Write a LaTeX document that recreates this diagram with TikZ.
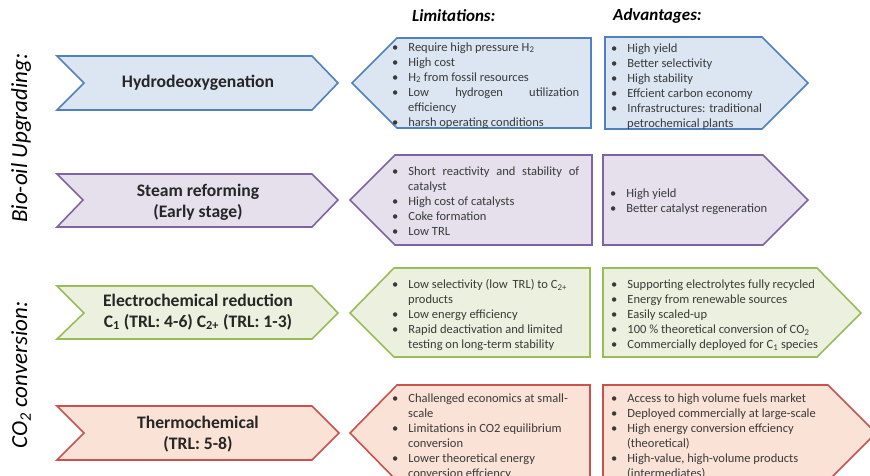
\documentclass[tikz,border=0pt]{standalone}
\usepackage{fontspec}
\setmainfont{Carlito}
\usepackage{tikz}
\usetikzlibrary{positioning}
\definecolor{hdoline}{HTML}{4F81BD}
\definecolor{hdofill}{HTML}{DCE6F2}
\definecolor{stmline}{HTML}{8064A2}
\definecolor{stmfill}{HTML}{E5E0EC}
\definecolor{eleline}{HTML}{9BBB59}
\definecolor{elefill}{HTML}{EBF1DE}
\definecolor{thmline}{HTML}{C9524F}
\definecolor{thmfill}{HTML}{FAE2D7}
\definecolor{ink}{HTML}{3A3A3A}
% tight bullet list for the boxes
\newenvironment{pts}{\begin{list}{\textbullet}{\setlength{\leftmargin}{16pt}\setlength{\labelwidth}{6pt}%
  \setlength{\labelsep}{10pt}\setlength{\itemsep}{0pt}\setlength{\parsep}{0pt}%
  \setlength{\topsep}{0pt}\setlength{\partopsep}{0pt}}}{\end{list}}
\hbadness=10000
\begin{document}
\begin{tikzpicture}[x=1pt, y=-1pt,
  shp/.style  = {line width=1.6pt, line join=miter},
  ttl/.style  = {align=center, text=black!85, font=\fontsize{17.6}{21}\selectfont\bfseries},
  lst/.style  = {anchor=north west, inner sep=0pt, align=justify, text=ink,
                 font=\fontsize{12.5}{15}\selectfont},
  hd/.style   = {anchor=west, inner sep=0pt, font=\fontsize{17}{20}\selectfont\bfseries\itshape},
  side/.style = {rotate=90, inner sep=0pt, font=\fontsize{23}{27}\selectfont\itshape},
]
  \clip (0,0) rectangle (870,476);

  % Bio-oil upgrading: hydrodeoxygenation
  \draw[shp, draw=hdoline, fill=hdofill] (57,56) -- (312,56) -- (338,83) -- (312,110) -- (57,110) -- (84,83) -- cycle;
  \draw[shp, draw=hdoline, fill=hdofill] (352,83) -- (397,38) -- (591,38) -- (591,128) -- (397,128) -- cycle;
  \draw[shp, draw=hdoline, fill=hdofill] (605,37) -- (762,37) -- (808,83) -- (762,129) -- (605,129) -- cycle;

  % steam reforming
  \draw[shp, draw=stmline, fill=stmfill] (57,174) -- (312,174) -- (338,200) -- (312,227) -- (57,227) -- (83,200) -- cycle;
  \draw[shp, draw=stmline, fill=stmfill] (350,200) -- (395,155) -- (592,155) -- (592,245) -- (395,245) -- cycle;
  \draw[shp, draw=stmline, fill=stmfill] (603,155) -- (763,155) -- (808,200) -- (763,245) -- (603,245) -- cycle;

  % CO2 conversion: electrochemical
  \draw[shp, draw=eleline, fill=elefill] (57,286) -- (312,286) -- (338,313) -- (312,339) -- (57,339) -- (84,313) -- cycle;
  \draw[shp, draw=eleline, fill=elefill] (350,313) -- (394,268) -- (590,268) -- (590,357) -- (394,357) -- cycle;
  \draw[shp, draw=eleline, fill=elefill] (603,268) -- (817,268) -- (861,313) -- (817,357) -- (603,357) -- cycle;

  % thermochemical
  \draw[shp, draw=thmline, fill=thmfill] (57,406) -- (312,406) -- (339,433) -- (312,460) -- (57,460) -- (84,433) -- cycle;
  \draw[shp, draw=thmline, fill=thmfill] (350,433) -- (397,385) -- (590,385) -- (590,481) -- (397,481) -- cycle;
  \draw[shp, draw=thmline, fill=thmfill] (603,385) -- (828,385) -- (876,433) -- (828,481) -- (603,481) -- cycle;

  % side labels and headers
  \node[side] (bio) at (21,138) {Bio-oil Upgrading:};
  \node[side] (co2) at (21,375) {CO\textsubscript{2} conversion:};
  \node[hd] (lim) at (412,16) {Limitations:};
  \node[hd] (adv) at (613,16) {Advantages:};

  % titles
  \node[ttl] (hdo) at (198,83)  {Hydrodeoxygenation};
  \node[ttl] (stm) at (198,202) {Steam reforming\\(Early stage)};
  \node[ttl] (ele) at (198,312) {Electrochemical reduction\\C\textsubscript{1} (TRL: 4-6) C\textsubscript{2+} (TRL: 1-3)};
  \node[ttl] (thm) at (198,434) {Thermochemical\\(TRL: 5-8)};

  % lists
  \node[lst, text width=187pt] (hdoLim) at (392,36) {\begin{pts}
    \item Require high pressure H\textsubscript{2}
    \item High cost
    \item H\textsubscript{2} from fossil resources
    \item Low hydrogen utilization\linebreak efficiency
    \item harsh operating conditions
  \end{pts}};
  \node[lst, text width=230pt] (hdoAdv) at (611,37) {\begin{pts}
    \item High yield
    \item Better selectivity
    \item High stability
    \item Effcient carbon economy
    \item Infrastructures: traditional\newline petrochemical plants
  \end{pts}};

  \node[lst, text width=187pt] (stmLim) at (392,160) {\begin{pts}
    \item Short reactivity and stability of\linebreak catalyst
    \item High cost of catalysts
    \item Coke formation
    \item Low TRL
  \end{pts}};
  \node[lst, text width=230pt] (stmAdv) at (610,182) {\begin{pts}
    \item High yield
    \item Better catalyst regeneration
  \end{pts}};

  \node[lst, text width=200pt] (eleLim) at (392,273) {\begin{pts}
    \item Low selectivity (low\, TRL) to C\textsubscript{2+}\newline products
    \item Low energy efficiency
    \item Rapid deactivation and limited\newline testing on long-term stability
  \end{pts}};
  \node[lst, text width=230pt] (eleAdv) at (611,273) {\begin{pts}
    \item Supporting electrolytes fully recycled
    \item Energy from renewable sources
    \item Easily scaled-up
    \item 100 \% theoretical conversion of CO\textsubscript{2}
    \item Commercially deployed for C\textsubscript{1} species
  \end{pts}};

  \node[lst, text width=200pt] (thmLim) at (392,387) {\begin{pts}
    \item Challenged economics at small-\newline scale
    \item Limitations in CO2 equilibrium\newline conversion
    \item Lower theoretical energy\newline conversion effciency
  \end{pts}};
  \node[lst, text width=230pt] (thmAdv) at (611,387) {\begin{pts}
    \item Access to high volume fuels market
    \item Deployed commercially at large-scale
    \item High energy conversion effciency\newline (theoretical)
    \item High-value, high-volume products\newline (intermediates)
  \end{pts}};
\end{tikzpicture}
\end{document}
